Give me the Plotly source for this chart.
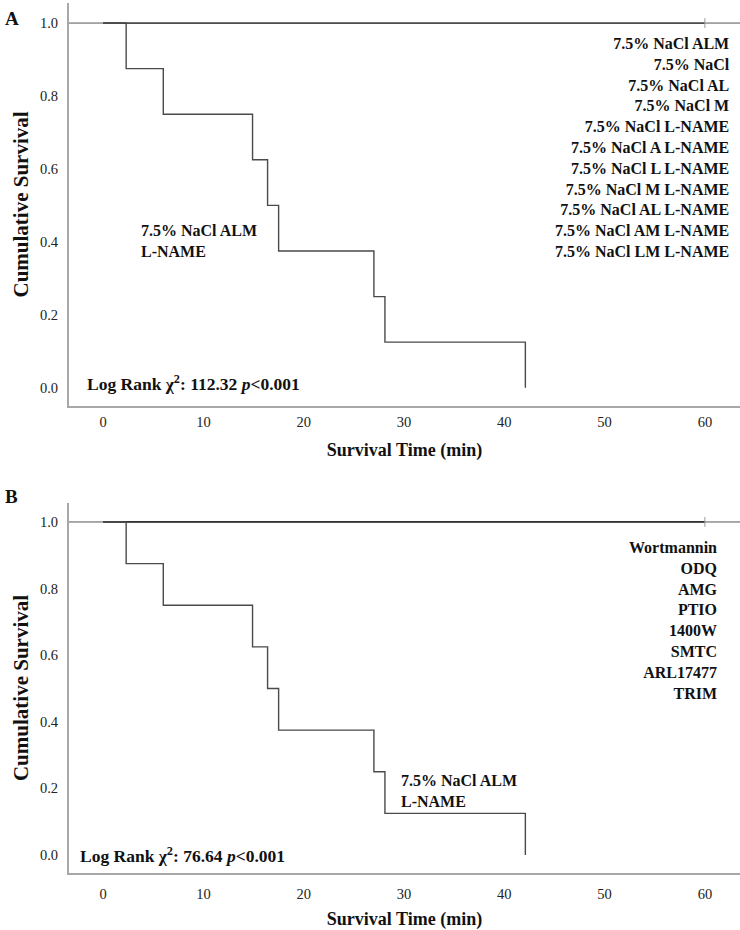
import plotly.graph_objects as go

# ---- data ----
event_times = [2.3, 6.0, 14.9, 16.4, 17.5, 27.0, 28.1, 42.1]
survival = [1.0, 0.875, 0.75, 0.625, 0.5, 0.375, 0.25, 0.125, 0.0]
censor_time = 60
x_ticks = [0, 10, 20, 30, 40, 50, 60]
y_ticks = [0.0, 0.2, 0.4, 0.6, 0.8, 1.0]

groups_a = ["7.5% NaCl ALM", "7.5% NaCl", "7.5% NaCl AL", "7.5% NaCl M",
            "7.5% NaCl L-NAME", "7.5% NaCl A L-NAME", "7.5% NaCl L L-NAME",
            "7.5% NaCl M L-NAME", "7.5% NaCl AL L-NAME", "7.5% NaCl AM L-NAME",
            "7.5% NaCl LM L-NAME"]
groups_b = ["Wortmannin", "ODQ", "AMG", "PTIO", "1400W", "SMTC", "ARL17477", "TRIM"]
curve_label = "7.5% NaCl ALM<br>L-NAME"
logrank_a = "112.32"
logrank_b = "76.64"

# build KM step coordinates
xs = [0]
ys = [survival[0]]
for t, s_prev, s_new in zip(event_times, survival[:-1], survival[1:]):
    xs += [t, t]
    ys += [s_prev, s_new]

SERIF = "Liberation Serif"
LINE = "#4a4a4a"
AXIS = "#a8a8a8"

fig = go.Figure()
for xa, ya, w in [("x", "y", 1.2), ("x2", "y2", 1.8)]:
    fig.add_trace(go.Scatter(x=[0, censor_time], y=[1.0, 1.0], mode="lines",
                             line=dict(color="#333333", width=w),
                             xaxis=xa, yaxis=ya, showlegend=False, hoverinfo="skip"))
    fig.add_trace(go.Scatter(x=[censor_time], y=[1.0], mode="markers",
                             marker=dict(symbol="line-ns", size=7,
                                         line=dict(color="#999999", width=1)),
                             xaxis=xa, yaxis=ya, showlegend=False, hoverinfo="skip"))
    fig.add_trace(go.Scatter(x=xs, y=ys, mode="lines",
                             line=dict(color=LINE, width=1.4, shape="linear"),
                             xaxis=xa, yaxis=ya, showlegend=False, hoverinfo="skip"))

# thin reference line at 1.0 across the plot width
for yr in ["y", "y2"]:
    fig.add_shape(type="line", xref="paper", x0=0, x1=1, yref=yr, y0=1.0, y1=1.0,
                  line=dict(color="#555555", width=1), layer="below")


def xaxis_cfg(tick_standoff, title_standoff):
    return dict(range=[-3.4, 63.5], tickvals=x_ticks, showgrid=False, zeroline=False,
                showline=True, linecolor=AXIS, linewidth=2, ticks="",
                ticklabelstandoff=tick_standoff,
                tickfont=dict(family=SERIF, size=14.5, color="#222"),
                title=dict(text="<b>Survival Time (min)</b>",
                           font=dict(family=SERIF, size=18, color="#111"),
                           standoff=title_standoff))


yaxis_common = dict(tickvals=y_ticks, ticktext=[f"{v:.1f}" for v in y_ticks],
                    showgrid=False, zeroline=False, showline=True, linecolor=AXIS,
                    linewidth=2, ticks="", ticklabelstandoff=6,
                    tickfont=dict(family=SERIF, size=14.5, color="#222"),
                    title=dict(text="<b>Cumulative Survival</b>",
                               font=dict(family=SERIF, size=21, color="#111"), standoff=6))

fig.update_layout(
    width=740, height=930,
    margin=dict(l=69, r=0, t=3, b=57, autoexpand=False),
    plot_bgcolor="white", paper_bgcolor="white",
    xaxis=dict(**xaxis_cfg(2, 14), domain=[0, 1], anchor="y"),
    yaxis=dict(**yaxis_common, range=[-0.05, 1.055], domain=[0.5368, 1.0], anchor="x"),
    xaxis2=dict(**xaxis_cfg(7, 17), domain=[0, 1], anchor="y2"),
    yaxis2=dict(**yaxis_common, range=[-0.054, 1.057], domain=[0.0, 0.4253], anchor="x2"),
)

ann = []
# panel letters
ann.append(dict(text="<b>A</b>", xref="paper", yref="paper", x=(12 - 69) / 671,
                y=(873 - 18) / 870, xanchor="center", yanchor="middle", showarrow=False,
                font=dict(family=SERIF, size=19, color="#111")))
ann.append(dict(text="<b>B</b>", xref="paper", yref="paper", x=(12 - 69) / 671,
                y=(873 - 497) / 870, xanchor="center", yanchor="middle", showarrow=False,
                font=dict(family=SERIF, size=19, color="#111")))
# group list panel A
ann.append(dict(text="<b>" + "<br>".join(groups_a) + "</b>", xref="paper", yref="paper",
                x=(732 - 69) / 671, y=(873 - 33) / 870, xanchor="right", yanchor="top",
                align="right", showarrow=False,
                font=dict(family=SERIF, size=16, color="#111")))
# group list panel B
ann.append(dict(text="<b>" + "<br>".join(groups_b) + "</b>", xref="paper", yref="paper",
                x=(720 - 69) / 671, y=(873 - 537) / 870, xanchor="right", yanchor="top",
                align="right", showarrow=False,
                font=dict(family=SERIF, size=16, color="#111")))
# curve labels
ann.append(dict(text="<b>" + curve_label + "</b>", xref="x", yref="y",
                x=3.6, y=0.46, xanchor="left", yanchor="top", align="left",
                showarrow=False, font=dict(family=SERIF, size=16, color="#111")))
ann.append(dict(text="<b>" + curve_label + "</b>", xref="x2", yref="y2",
                x=29.5, y=0.255, xanchor="left", yanchor="top", align="left",
                showarrow=False, font=dict(family=SERIF, size=16, color="#111")))
# log rank texts
ann.append(dict(text=f"<b>Log Rank χ<sup>2</sup>: {logrank_a} <i>p</i>&lt;0.001</b>",
                xref="paper", yref="y", x=(85 - 69) / 671, y=0.0, xanchor="left",
                yanchor="middle", showarrow=False, yshift=5,
                font=dict(family=SERIF, size=17.5, color="#111")))
ann.append(dict(text=f"<b>Log Rank χ<sup>2</sup>: {logrank_b} <i>p</i>&lt;0.001</b>",
                xref="paper", yref="y2", x=(78 - 69) / 671, y=0.0, xanchor="left",
                yanchor="middle", showarrow=False,
                font=dict(family=SERIF, size=17.5, color="#111")))
fig.update_layout(annotations=ann)

fig.write_html("out.html", config={"displayModeBar": False},
               post_script="document.body.style.margin='0';document.body.style.padding='0';")
